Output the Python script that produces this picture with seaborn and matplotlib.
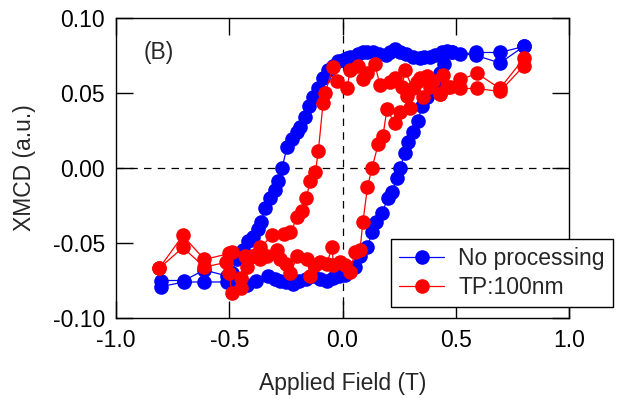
import numpy as np
import pandas as pd
import matplotlib
matplotlib.use("Agg")
import matplotlib.pyplot as plt
import seaborn as sns

# ---- data (loop order: descending branch then ascending) ----
blue_x = [0.80, 0.695, 0.59, 0.52, 0.483, 0.46, 0.44, 0.41, 0.386, 0.36, 0.34, 0.31, 0.28,
          0.254, 0.23, 0.21, 0.19, 0.16, 0.135, 0.11, 0.09, 0.07, 0.055, 0.035, 0.02, 0.0,
          -0.02, -0.04, -0.064, -0.086, -0.108, -0.13, -0.15, -0.166, -0.188, -0.2, -0.223,
          -0.245, -0.267, -0.285, -0.298, -0.32, -0.34, -0.36, -0.373, -0.395, -0.417, -0.44,
          -0.466, -0.49, -0.51, -0.61, -0.70, -0.80,
          -0.80, -0.70, -0.61, -0.51, -0.47, -0.42, -0.38, -0.33, -0.30, -0.276, -0.25, -0.22,
          -0.19, -0.16, -0.13, -0.10, -0.07, -0.04, -0.015, 0.01, 0.03, 0.055, 0.077, 0.11,
          0.13, 0.15, 0.175, 0.2, 0.218, 0.24, 0.254, 0.276, 0.29, 0.31, 0.333, 0.35, 0.373,
          0.40, 0.415, 0.43, 0.45, 0.483, 0.59, 0.695, 0.80]
blue_y = [0.081, 0.077, 0.077, 0.076, 0.077, 0.078, 0.077, 0.075, 0.074, 0.074, 0.073, 0.074, 0.076,
          0.077, 0.079, 0.077, 0.075, 0.076, 0.077, 0.077, 0.077, 0.076, 0.074, 0.074, 0.073, 0.072,
          0.071, 0.068, 0.065, 0.060, 0.053, 0.047, 0.041, 0.034, 0.027, 0.024, 0.019,
          0.014, 0.0, -0.009, -0.015, -0.020, -0.027, -0.036, -0.041, -0.046, -0.049, -0.055,
          -0.061, -0.070, -0.072, -0.068, -0.075, -0.075,
          -0.079, -0.076, -0.076, -0.076, -0.077, -0.078, -0.075, -0.072, -0.074, -0.075, -0.076, -0.077,
          -0.075, -0.074, -0.072, -0.074, -0.075, -0.073, -0.072, -0.071, -0.068, -0.066, -0.059, -0.053,
          -0.043, -0.036, -0.030, -0.020, -0.016, -0.007, 0.0, 0.010, 0.017, 0.024, 0.031, 0.041, 0.047,
          0.052, 0.058, 0.063, 0.069, 0.077, 0.075, 0.070, 0.081]

red_x = [0.80, 0.695, 0.594, 0.52, 0.475, 0.444, 0.43, 0.40, 0.373, 0.34, 0.31, 0.276, 0.263,
         0.23, 0.21, 0.166, 0.143, 0.11, 0.09, 0.07, 0.033, 0.02, -0.025, -0.042, -0.077,
         -0.086, -0.107, -0.12, -0.143, -0.16, -0.18, -0.2, -0.23, -0.26, -0.31, -0.364,
         -0.395, -0.43, -0.49, -0.5, -0.61, -0.705, -0.81,
         -0.81, -0.705, -0.61, -0.515, -0.5, -0.49, -0.45, -0.45, -0.42, -0.395, -0.364, -0.335,
         -0.29, -0.276, -0.25, -0.23, -0.2, -0.157, -0.143, -0.12, -0.1, -0.07, -0.046, -0.04,
         -0.01, 0.01, 0.033, 0.055, 0.077, 0.09, 0.11, 0.13, 0.158, 0.178, 0.196, 0.23, 0.254,
         0.3, 0.285, 0.33, 0.355, 0.386, 0.43, 0.46, 0.52, 0.594, 0.695, 0.80]
red_y = [0.073, 0.053, 0.063, 0.059, 0.054, 0.062, 0.049, 0.058, 0.061, 0.060, 0.053, 0.065, 0.054,
         0.060, 0.057, 0.055, 0.069, 0.063, 0.059, 0.068, 0.065, 0.053, 0.058, 0.067, 0.050,
         0.043, 0.011, -0.003, -0.009, -0.020, -0.029, -0.033, -0.043, -0.044, -0.045, -0.053,
         -0.059, -0.059, -0.056, -0.057, -0.061, -0.045, -0.067,
         -0.067, -0.053, -0.066, -0.063, -0.070, -0.083, -0.080, -0.073, -0.066, -0.059, -0.061, -0.059,
         -0.055, -0.061, -0.064, -0.070, -0.059, -0.061, -0.072, -0.065, -0.063, -0.064, -0.053, -0.065,
         -0.063, -0.065, -0.069, -0.056, -0.055, -0.036, -0.013, 0.0, 0.016, 0.021, 0.039, 0.030, 0.037,
         0.040, 0.048, 0.057, 0.047, 0.054, 0.049, 0.054, 0.053, 0.053, 0.051, 0.068]

x_ticks = [-1.0, -0.5, 0.0, 0.5, 1.0]
y_ticks = [-0.10, -0.05, 0.0, 0.05, 0.10]

sns.set_theme(style="ticks")
plt.rcParams['font.family'] = ['Liberation Sans', 'DejaVu Sans']
plt.rcParams['axes.unicode_minus'] = False

FS = 16.5

fig = plt.figure(figsize=(6.24, 3.98), dpi=100)
ax = fig.add_axes([0.1859, 0.201, 0.7260, 0.7538])

ax.axhline(0, color='black', linestyle=(0, (6, 5)), linewidth=0.9, zorder=1)
ax.axvline(0, color='black', linestyle=(0, (6, 5)), linewidth=0.9, zorder=1)

sns.lineplot(x=blue_x, y=blue_y, sort=False, estimator=None, ax=ax, color='#0000ff',
             marker='o', markersize=10.5, markeredgewidth=0, linewidth=0.9,
             label='No processing', zorder=2)
sns.lineplot(x=red_x, y=red_y, sort=False, estimator=None, ax=ax, color='#ff0000',
             marker='o', markersize=10.5, markeredgewidth=0, linewidth=0.9,
             label='TP:100nm', zorder=3)

ax.set_xlim(-1.0, 1.0)
ax.set_ylim(-0.10, 0.10)
ax.set_xticks(x_ticks)
ax.set_yticks(y_ticks)
ax.set_xticklabels([f"{v:.1f}" for v in x_ticks])
ax.set_yticklabels([f"{v:.2f}" for v in y_ticks])
ax.tick_params(direction='in', length=12, width=1, top=True, right=True,
               labelsize=FS, pad=8, color='black', labelcolor='black')
for s in ax.spines.values():
    s.set_visible(True)
    s.set_color('black')
    s.set_linewidth(1)

ax.set_xlabel("Applied Field (T)", fontsize=FS, labelpad=14)
ax.set_ylabel("XMCD (a.u.)", fontsize=FS, labelpad=12)
ax.text(-0.88, 0.077, "(B)", fontsize=FS, ha='left', va='center')

leg = ax.legend(loc='lower right', bbox_to_anchor=(0.982, 0.229), bbox_transform=fig.transFigure,
                fontsize=FS, frameon=True, fancybox=False, framealpha=1, edgecolor='black',
                handlelength=2.0, handletextpad=0.6, labelspacing=0.25, borderpad=0.35,
                borderaxespad=0)
leg.get_frame().set_linewidth(1)

fig.savefig("out.png", dpi=100)
